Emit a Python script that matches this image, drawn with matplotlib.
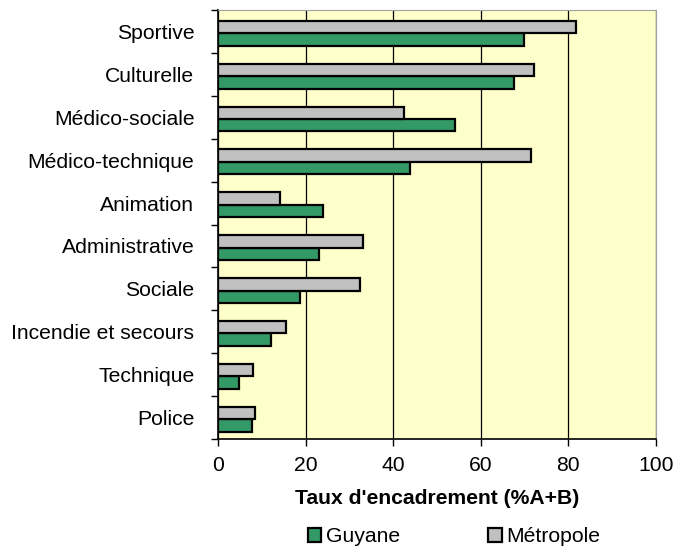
import numpy as np
import matplotlib
matplotlib.use('Agg')
import matplotlib.pyplot as plt

categories = ['Sportive', 'Culturelle', 'Médico-sociale', 'Médico-technique', 'Animation',
              'Administrative', 'Sociale', 'Incendie et secours', 'Technique', 'Police']
guyane = [69.9, 67.6, 54.0, 43.8, 24.0, 23.1, 18.7, 12.2, 4.8, 7.8]
metropole = [81.7, 72.1, 42.4, 71.4, 14.2, 33.2, 32.4, 15.6, 8.1, 8.4]
xticks = [0, 20, 40, 60, 80, 100]

plt.rcParams['font.family'] = ['Liberation Sans', 'DejaVu Sans']

fig = plt.figure(figsize=(6.74, 5.48), dpi=100)
ax = fig.add_axes([218/674, 1-439/548, 438/674, 429/548])
ax.set_facecolor('#FFFFCC')

n = len(categories)
y = np.arange(n)[::-1]
h = 0.29
off = -0.04  # bars sit a bit low in each slot
ax.barh(y + off - h/2, guyane, height=h, color='#339966', edgecolor='black', linewidth=1.6,
        label='Guyane', zorder=3)
ax.barh(y + off + h/2, metropole, height=h, color='#C0C0C0', edgecolor='black', linewidth=1.6,
        label='Métropole', zorder=3)

ax.set_xlim(0, 100)
ax.set_ylim(-0.5, n - 0.5)
ax.set_xticks(xticks)
ax.xaxis.grid(True, color='black', linewidth=0.9, zorder=1)
ax.set_axisbelow(True)

# ticks at category boundaries, labels in the middle
ax.set_yticks(np.arange(-0.5, n, 1))
ax.set_yticklabels([])
ax.set_yticks(y, minor=True)
ax.set_yticklabels(categories, minor=True, fontsize=15.2)
ax.tick_params(axis='y', which='minor', length=0, pad=17)
ax.tick_params(axis='y', which='major', length=5, width=1, direction='out')
ax.tick_params(axis='x', length=5, width=1, labelsize=15.2, pad=7)

for s in ['top', 'right']:
    ax.spines[s].set_color('#A0A0A0')
for s in ['left', 'bottom']:
    ax.spines[s].set_color('black')
    ax.spines[s].set_linewidth(1.2)

ax.set_xlabel("Taux d'encadrement (%A+B)", fontsize=15.2, fontweight='bold', labelpad=10)

fig.legend(loc='center', bbox_to_anchor=(454/674, 1-537/548), ncol=2, frameon=False,
           fontsize=15.2, handlelength=0.65, handleheight=0.65, handletextpad=0.2,
           columnspacing=4.2, borderpad=0)

fig.savefig('out.png', dpi=100)
